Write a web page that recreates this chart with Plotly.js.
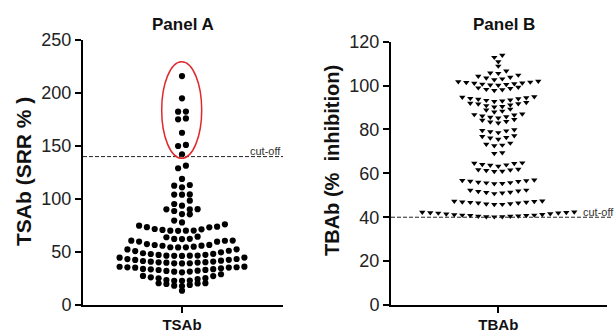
<!DOCTYPE html>
<html><head><meta charset="utf-8">
<script src="https://cdn.plot.ly/plotly-3.0.1.min.js"></script>
<style>html,body{margin:0;padding:0;background:#fff}#chart{width:616px;height:333px}</style>
</head><body><div id="chart"></div>
<script>
// ---- data ----
const categories = ["TSAb", "TBAb"];
const panelTitles = ["Panel A", "Panel B"];
const yTitles = ["TSAb (SRR % )", "TBAb (%  inhibition)"];
const cutoffLabel = "cut-off";
const tsabCutoff = 140;
const tbabCutoff = 40;

const tsabValues = [
  13.5,
  17.9, 18.2, 18.9, 19.8, 20.5, 20.6, 20.4,
  22.9, 23.0, 22.8, 23.6, 24.5, 25.2, 25.3, 26.1, 27.4, 27.3, 29.0,
  30.8, 31.4, 31.5, 32.1, 32.4, 33.0, 33.1, 33.7, 33.8, 34.0, 34.6, 35.2, 35.3, 35.5, 35.6, 36.1, 36.2,
  39.3, 39.4, 39.2, 39.9, 40.0, 40.3, 40.4, 40.9, 41.0, 41.5, 41.8, 42.5, 42.6, 43.4, 43.3, 44.6, 44.7,
  46.3, 46.4, 46.5, 46.6, 46.5, 47.2, 47.3, 48.1, 48.2, 48.8, 49.7, 50.9, 51.2, 52.5, 52.4,
  54.4, 54.5, 54.3, 55.0, 55.9, 56.0, 56.6, 56.7, 57.5, 59.7, 59.8, 60.7, 60.6, 60.8,
  62.3, 62.4, 62.2, 63.9, 64.5,
  70.0, 70.1, 70.1, 70.2, 70.8, 71.4, 71.7, 73.3, 73.4, 73.9, 74.8, 76.1,
  77.9, 79.6, 85.5, 85.8, 88.7, 90.3, 90.4, 90.2, 93.7, 95.3, 98.4,
  104.2, 104.3, 104.1, 111.0, 112.6, 113.2, 118.9, 129.0, 131.4,
  142.2, 150.0, 151.0, 162.5, 175.2, 176.0, 182.4, 182.5, 195.0, 216.0
];

const tbabValues = [
  40.2, 40.3, 40.3, 40.5, 40.5, 40.6, 40.8, 40.8, 41.0, 41.0, 41.2, 41.3, 41.5, 41.6, 41.9, 42.0, 42.1, 42.2, 42.3, 42.4,
  45.8, 45.9, 46.1, 46.2, 46.5, 46.5, 46.8, 46.9, 47.0, 47.2, 47.3, 47.4,
  50.8, 51.1, 51.3, 51.4, 51.8, 52.0, 52.3, 52.4,
  55.3, 55.4, 55.7, 55.8, 56.0, 56.3, 56.4, 56.7, 56.8, 57.0,
  60.9, 61.0, 61.3, 61.6, 61.7, 61.9,
  63.3, 63.7, 63.9, 64.1, 64.5, 64.6, 64.8,
  69.1, 69.4,
  72.6, 72.9, 73.3, 73.8,
  75.6, 76.1, 76.4, 76.8, 77.2,
  78.6, 79.0, 79.4, 79.6, 79.9,
  83.0, 83.4, 83.7, 84.2, 84.6,
  85.3, 85.6, 85.8, 86.2, 86.6, 86.8, 87.1,
  88.0, 88.4, 88.9, 89.3,
  90.3, 90.5, 90.9, 91.2, 91.6, 91.8, 92.0, 92.3,
  92.8, 93.0, 93.3, 93.5, 93.8, 94.0, 94.2, 94.5, 94.7, 94.9,
  97.8, 98.1, 98.3, 98.7, 99.0, 99.3,
  100.2, 100.3, 100.5, 100.7, 100.9, 101.1, 101.2, 101.4, 101.6, 101.8, 102.0,
  102.7, 103.1, 103.5, 103.8, 104.3, 104.8,
  105.6, 105.8, 106.7,
  108.9, 110.9, 112.9, 113.9
];

// ---- beeswarm layout (Prism-style binned rows, lowest value in the centre) ----
function swarm(values, binStart, binWidth, spacing) {
  const sorted = values.slice().sort((a, b) => a - b);
  const rows = new Map();
  sorted.forEach(v => {
    const k = Math.floor((v - binStart) / binWidth);
    if (!rows.has(k)) rows.set(k, []);
    rows.get(k).push(v);
  });
  const xs = [], ys = [];
  rows.forEach(row => {
    const n = row.length;
    row.forEach((v, j) => {
      let off;
      if (n % 2) { const m = Math.ceil(j / 2); off = (j % 2 ? -m : m); }
      else { const m = Math.floor(j / 2) + 0.5; off = (j % 2 ? m : -m); }
      xs.push(off * spacing); ys.push(v);
    });
  });
  return { xs, ys };
}

const A = swarm(tsabValues, 14.6, 7.9, 7.8);
const B = swarm(tbabValues, 40.0, 2.5, 8.0);

const FONT = "Liberation Sans, Arial, Helvetica, sans-serif";
const W = 616, H = 333;
const px = v => v / W;
const py = v => 1 - v / H;

const traces = [
  { x: A.xs, y: A.ys, xaxis: "x", yaxis: "y", type: "scatter", mode: "markers",
    marker: { symbol: "circle", size: 6.2, color: "#000" }, cliponaxis: false, hoverinfo: "skip" },
  { x: B.xs, y: B.ys, xaxis: "x2", yaxis: "y2", type: "scatter", mode: "markers",
    marker: { symbol: "triangle-down", size: 5.6, color: "#000" }, cliponaxis: false, hoverinfo: "skip" }
];

const axCommon = {
  showline: true, linecolor: "#000", linewidth: 2, mirror: false,
  ticks: "outside", ticklen: 6, tickwidth: 2, tickcolor: "#000",
  showgrid: false, zeroline: false, fixedrange: true
};

const layout = {
  width: W, height: H,
  margin: { l: 0, r: 0, t: 0, b: 0 },
  paper_bgcolor: "#fff", plot_bgcolor: "#fff",
  showlegend: false,
  font: { family: FONT, color: "#000" },
  xaxis: Object.assign({}, axCommon, {
    domain: [px(83), px(283)], range: [-99, 101], anchor: "y",
    tickvals: [0], ticktext: [categories[0]], ticklabelstandoff: -1,
    tickfont: { family: FONT, size: 15, weight: "bold", color: "#111" }
  }),
  yaxis: Object.assign({}, axCommon, {
    domain: [1 - 305 / H, 1 - 40 / H], range: [0, 250], anchor: "x",
    tickmode: "linear", tick0: 0, dtick: 50,
    tickfont: { family: FONT, size: 18, color: "#222" }
  }),
  xaxis2: Object.assign({}, axCommon, {
    domain: [px(391), px(607)], range: [-107.3, 108.7], anchor: "y2",
    tickvals: [0], ticktext: [categories[1]], ticklabelstandoff: -1,
    tickfont: { family: FONT, size: 15, weight: "bold", color: "#111" }
  }),
  yaxis2: Object.assign({}, axCommon, {
    domain: [1 - 305 / H, 1 - 41.7 / H], range: [0, 120], anchor: "x2",
    tickmode: "linear", tick0: 0, dtick: 20,
    tickfont: { family: FONT, size: 18, color: "#222" }
  }),
  shapes: [
    { type: "line", xref: "x domain", yref: "y", x0: 0, x1: 1, y0: tsabCutoff, y1: tsabCutoff,
      line: { color: "#222", width: 1, dash: "4px,2px" } },
    { type: "line", xref: "paper", yref: "y2", x0: px(391), x1: px(613), y0: tbabCutoff, y1: tbabCutoff,
      line: { color: "#222", width: 1, dash: "4px,2px" } },
    { type: "circle", xref: "x", yref: "y", x0: -20.3, x1: 19.7, y0: 138.4, y1: 229.5,
      line: { color: "#e0282c", width: 1.5 } }
  ],
  annotations: [
    { text: panelTitles[0], xref: "paper", yref: "paper", x: px(183), y: py(24), xanchor: "center", yanchor: "middle",
      showarrow: false, font: { family: FONT, size: 17, weight: "bold", color: "#111" } },
    { text: panelTitles[1], xref: "paper", yref: "paper", x: px(504), y: py(24), xanchor: "center", yanchor: "middle",
      showarrow: false, font: { family: FONT, size: 17, weight: "bold", color: "#111" } },
    { text: yTitles[0], xref: "paper", yref: "paper", x: px(23), y: py(172), xanchor: "center", yanchor: "middle",
      textangle: -90, showarrow: false, font: { family: FONT, size: 21, weight: "bold", color: "#111" } },
    { text: yTitles[1], xref: "paper", yref: "paper", x: px(332), y: py(161), xanchor: "center", yanchor: "middle",
      textangle: -90, showarrow: false, font: { family: FONT, size: 20, weight: "bold", color: "#111" } },
    { text: cutoffLabel, xref: "paper", yref: "paper", x: px(283), y: py(151), xanchor: "right", yanchor: "middle",
      showarrow: false, font: { family: FONT, size: 11, color: "#333" } },
    { text: cutoffLabel, xref: "paper", yref: "paper", x: px(616), y: py(212), xanchor: "right", yanchor: "middle",
      showarrow: false, font: { family: FONT, size: 11, color: "#333" } }
  ]
};

Plotly.newPlot("chart", traces, layout, { staticPlot: true, displayModeBar: false });
</script>
</body></html>
